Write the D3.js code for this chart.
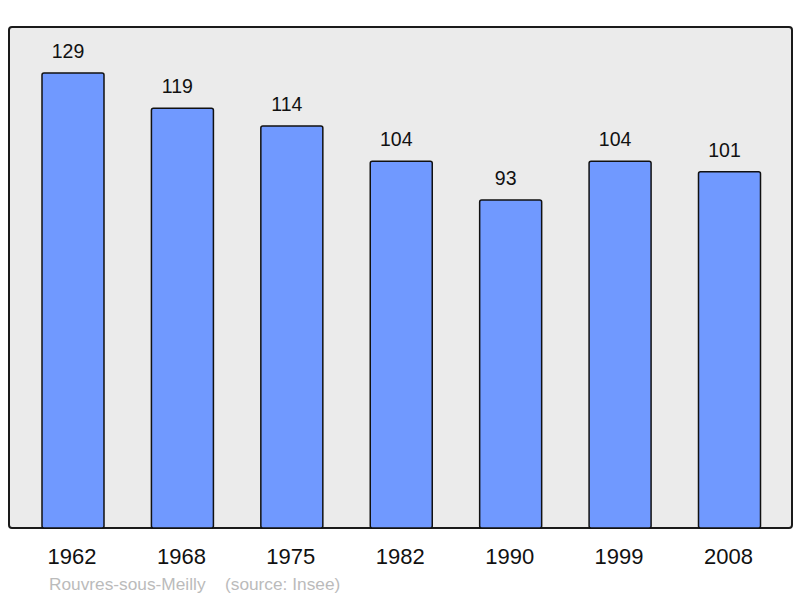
<!DOCTYPE html>
<html>
<head>
<meta charset="utf-8">
<script src="https://cdn.jsdelivr.net/npm/d3@7"></script>
<style>
  body { margin: 0; background: #fff; }
  text { font-family: "Liberation Sans", Arial, sans-serif; }
</style>
</head>
<body>
<svg id="chart" width="800" height="598"></svg>
<script>
  var years = ["1962", "1968", "1975", "1982", "1990", "1999", "2008"];
  var population = [129, 119, 114, 104, 93, 104, 101];
  var commune = "Rouvres-sous-Meilly";
  var source = "(source: Insee)";

  var svg = d3.select("#chart");

  // plot frame
  svg.append("rect")
    .attr("x", 9).attr("y", 27)
    .attr("width", 783).attr("height", 501)
    .attr("rx", 3)
    .attr("fill", "#ebebeb")
    .attr("stroke", "#1a1a1a")
    .attr("stroke-width", 2);

  var x = d3.scalePoint().domain(years).range([73, 729.5]);
  var y = d3.scaleLinear().domain([0, 129]).range([528, 73]);
  var barW = 62;

  var data = years.map(function(d, i) { return { year: d, value: population[i] }; });

  svg.selectAll(".bar")
    .data(data)
    .enter().append("rect")
    .attr("class", "bar")
    .attr("x", function(d) { return x(d.year) - barW / 2; })
    .attr("y", function(d) { return y(d.value); })
    .attr("width", barW)
    .attr("height", function(d) { return y(0) - y(d.value); })
    .attr("rx", 2)
    .attr("fill", "#7099ff")
    .attr("stroke", "#111")
    .attr("stroke-width", 1.5);

  // value labels sit a bit left of the bar centre, like the original
  svg.selectAll(".val")
    .data(data)
    .enter().append("text")
    .attr("x", function(d) { return x(d.year) - 5; })
    .attr("y", function(d) { return y(d.value) - 15; })
    .attr("text-anchor", "middle")
    .style("font-size", "19.5px")
    .attr("fill", "#111")
    .text(function(d) { return d.value; });

  svg.selectAll(".yr")
    .data(years)
    .enter().append("text")
    .attr("x", function(d) { return x(d) - 1; })
    .attr("y", 564)
    .attr("text-anchor", "middle")
    .style("font-size", "22px")
    .attr("fill", "#111")
    .text(function(d) { return d; });

  svg.append("text")
    .attr("x", 49).attr("y", 590)
    .style("font-size", "17.3px")
    .attr("fill", "#bbb")
    .text(commune);

  svg.append("text")
    .attr("x", 225).attr("y", 590)
    .style("font-size", "17.3px")
    .attr("fill", "#bbb")
    .text(source);
</script>
</body>
</html>
